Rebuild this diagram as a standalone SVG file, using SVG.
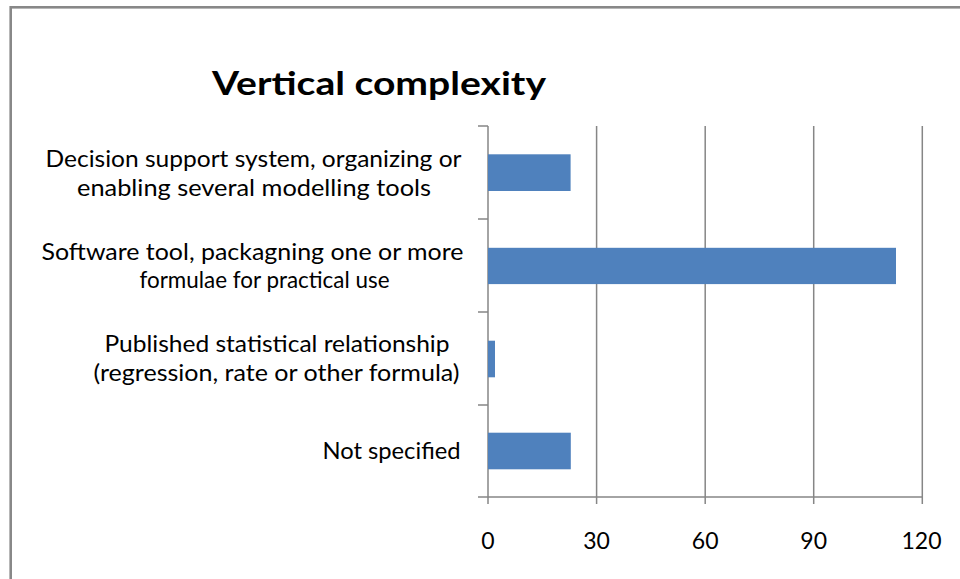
<svg xmlns="http://www.w3.org/2000/svg" width="960" height="579" viewBox="0 0 960 579">
<style>
.lbl{font-family:Lato,"Liberation Sans",sans-serif;font-size:23px;fill:#000;text-anchor:middle}
.num{font-family:Lato,"Liberation Sans",sans-serif;font-size:23px;fill:#000;text-anchor:middle}
.title{font-family:Lato,"Liberation Sans",sans-serif;font-size:33px;font-weight:bold;fill:#000;text-anchor:middle}
.grid{stroke:#868686;stroke-width:1.5;fill:none}
.bar{fill:#4F81BD}
</style>
<rect width="960" height="579" fill="#fff"/>
<rect id="frame" x="10.7" y="7.3" width="1000" height="1000" fill="none" stroke="#888" stroke-width="2.6"/>
<g id="title"><text class="title" x="379" y="95" textLength="334" lengthAdjust="spacingAndGlyphs">Vertical complexity</text></g>
<g id="gridlines" class="grid">
<line x1="596.6" y1="126" x2="596.6" y2="504"/>
<line x1="705.2" y1="126" x2="705.2" y2="504"/>
<line x1="813.7" y1="126" x2="813.7" y2="504"/>
<line x1="922.3" y1="126" x2="922.3" y2="504"/>
</g>
<g id="axes" class="grid">
<line x1="488" y1="126" x2="488" y2="504"/>
<line x1="478" y1="497" x2="922.3" y2="497"/>
<line x1="478" y1="126" x2="488" y2="126"/>
<line x1="478" y1="219" x2="488" y2="219"/>
<line x1="478" y1="312" x2="488" y2="312"/>
<line x1="478" y1="405" x2="488" y2="405"/>
</g>
<g id="bars">
<rect id="bar-decision" class="bar" x="488" y="154.3" width="82.6" height="36.7"/>
<rect id="bar-software" class="bar" x="488" y="247.8" width="408" height="36.3"/>
<rect id="bar-published" class="bar" x="488" y="340.7" width="7" height="36.6"/>
<rect id="bar-notspecified" class="bar" x="488" y="432.7" width="82.8" height="36.6"/>
</g>
<g id="category-labels">
<text class="lbl" x="253.5" y="167" textLength="416" lengthAdjust="spacingAndGlyphs">Decision support system, organizing or</text>
<text class="lbl" x="254" y="196" textLength="354" lengthAdjust="spacingAndGlyphs">enabling several modelling tools</text>
<text class="lbl" x="252.5" y="259.5" textLength="422" lengthAdjust="spacingAndGlyphs">Software tool, packagning one or more</text>
<text class="lbl" x="264.5" y="288" textLength="250" lengthAdjust="spacingAndGlyphs">formulae for practical use</text>
<text class="lbl" x="277" y="352" textLength="345" lengthAdjust="spacingAndGlyphs">Published statistical relationship</text>
<text class="lbl" x="276.5" y="381" textLength="366" lengthAdjust="spacingAndGlyphs">(regression, rate or other formula)</text>
<text class="lbl" x="391.5" y="458.5" textLength="138" lengthAdjust="spacingAndGlyphs">Not specified</text>
</g>
<g id="value-labels">
<text class="num" x="488" y="549">0</text>
<text class="num" x="596.6" y="549">30</text>
<text class="num" x="705.2" y="549">60</text>
<text class="num" x="813.7" y="549">90</text>
<text class="num" x="921.5" y="549">120</text>
</g>
</svg>
